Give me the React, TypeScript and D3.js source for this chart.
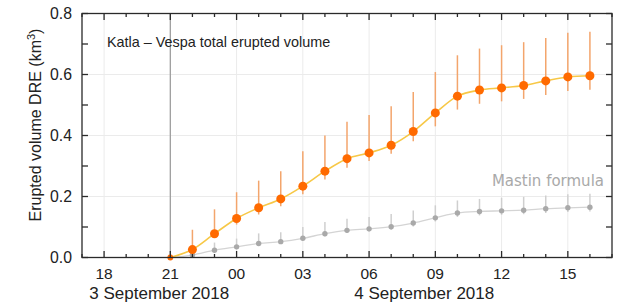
import React, { useEffect, useRef } from 'react';
import * as d3 from 'd3';

// hourly samples, 21:00 on 3 Sep to 16:00 on 4 Sep 2018 (UTC)
const times = [
  '2018-09-03T21:00Z', '2018-09-03T22:00Z', '2018-09-03T23:00Z',
  '2018-09-04T00:00Z', '2018-09-04T01:00Z', '2018-09-04T02:00Z', '2018-09-04T03:00Z',
  '2018-09-04T04:00Z', '2018-09-04T05:00Z', '2018-09-04T06:00Z', '2018-09-04T07:00Z',
  '2018-09-04T08:00Z', '2018-09-04T09:00Z', '2018-09-04T10:00Z', '2018-09-04T11:00Z',
  '2018-09-04T12:00Z', '2018-09-04T13:00Z', '2018-09-04T14:00Z', '2018-09-04T15:00Z',
  '2018-09-04T16:00Z',
];

// Vespa volume (km3 DRE)
const vespa = [0, 0.026, 0.078, 0.128, 0.163, 0.192, 0.234, 0.283, 0.324, 0.343, 0.368,
  0.413, 0.474, 0.529, 0.549, 0.556, 0.564, 0.579, 0.592, 0.596];
const vespaHigh = [0, 0.091, 0.158, 0.214, 0.252, 0.283, 0.348, 0.4, 0.445, 0.467, 0.496,
  0.543, 0.608, 0.663, 0.685, 0.696, 0.706, 0.72, 0.737, 0.74];
const vespaLow = [0, 0.018, 0.065, 0.108, 0.141, 0.168, 0.207, 0.256, 0.294, 0.316, 0.34,
  0.381, 0.43, 0.485, 0.504, 0.512, 0.52, 0.533, 0.546, 0.55];

// Mastin formula
const mastin = [0, 0.008, 0.024, 0.035, 0.046, 0.052, 0.063, 0.078, 0.089, 0.094, 0.101,
  0.113, 0.13, 0.146, 0.151, 0.153, 0.155, 0.16, 0.163, 0.165];
const mastinHigh = [0, 0.02, 0.049, 0.062, 0.079, 0.083, 0.1, 0.116, 0.127, 0.133, 0.143,
  0.154, 0.171, 0.187, 0.192, 0.196, 0.199, 0.203, 0.207, 0.209];
const mastinLow = [0, 0.006, 0.02, 0.03, 0.04, 0.046, 0.056, 0.07, 0.08, 0.085, 0.091,
  0.102, 0.118, 0.133, 0.138, 0.14, 0.142, 0.146, 0.149, 0.151];

const yTicks = [0, 0.2, 0.4, 0.6, 0.8];
const dateLabels = [
  { at: '2018-09-03T20:30Z', text: '3 September 2018' },
  { at: '2018-09-04T08:30Z', text: '4 September 2018' },
];
const eruptionStart = '2018-09-03T21:00Z';
const title = 'Katla \u2013 Vespa total erupted volume';

const W = 618, H = 303;
const margin = { top: 13.5, right: 6, bottom: 45.5, left: 82 };
const font = '"Liberation Sans", Arial, sans-serif';

const Chart = () => {
  const ref = useRef<SVGSVGElement>(null);

  useEffect(() => {
    const svg = d3.select(ref.current);
    svg.selectAll('*').remove();

    const x0 = margin.left, x1 = W - margin.right;
    const y0 = H - margin.bottom, y1 = margin.top;

    const x = d3.scaleUtc()
      .domain([new Date('2018-09-03T17:00Z'), new Date('2018-09-04T17:00Z')])
      .range([x0, x1]);
    const y = d3.scaleLinear().domain([0, 0.8]).range([y0, y1]);

    const dates = times.map(t => new Date(t));
    const hours = x.ticks(d3.utcHour.every(1)!);
    const major = x.ticks(d3.utcHour.every(3)!);
    const yMinor = d3.range(0, 0.81, 0.1);

    // grid
    const g = svg.append('g');
    g.selectAll('.vg').data(major).enter().append('line')
      .attr('x1', d => x(d)).attr('x2', d => x(d))
      .attr('y1', y0).attr('y2', y1)
      .attr('stroke', '#ebebeb').attr('stroke-width', 1);
    g.selectAll('.hg').data(yTicks.slice(1, -1)).enter().append('line')
      .attr('x1', x0).attr('x2', x1)
      .attr('y1', d => y(d)).attr('y2', d => y(d))
      .attr('stroke', '#ebebeb').attr('stroke-width', 1);

    // eruption start
    svg.append('line')
      .attr('x1', x(new Date(eruptionStart))).attr('x2', x(new Date(eruptionStart)))
      .attr('y1', y0).attr('y2', y1)
      .attr('stroke', '#a0a0a0').attr('stroke-width', 1.3);

    const line = d3.line<number>()
      .x((_, i) => x(dates[i]))
      .y(d => y(d))
      .curve(d3.curveMonotoneX);

    const drawSeries = (vals: number[], lo: number[], hi: number[],
      barColor: string, lineColor: string, dotColor: string, r: number, lw: number) => {
      svg.append('g').selectAll('line').data(vals).enter().append('line')
        .attr('x1', (_, i) => x(dates[i])).attr('x2', (_, i) => x(dates[i]))
        .attr('y1', (_, i) => y(lo[i])).attr('y2', (_, i) => y(hi[i]))
        .attr('stroke', barColor).attr('stroke-width', 1.5);
      svg.append('path').datum(vals)
        .attr('d', line)
        .attr('fill', 'none').attr('stroke', lineColor).attr('stroke-width', lw);
      svg.append('g').selectAll('circle').data(vals).enter().append('circle')
        .attr('cx', (_, i) => x(dates[i])).attr('cy', d => y(d))
        .attr('r', (d) => d === 0 ? r * 0.65 : r)
        .attr('fill', dotColor);
    };

    drawSeries(mastin, mastinLow, mastinHigh, '#cfcfcf', '#d4d4d4', '#a9a9a9', 2.7, 1.3);
    drawSeries(vespa, vespaLow, vespaHigh, '#f3a56c', '#f7c847', '#ff6a00', 4.5, 1.6);

    // frame
    svg.append('rect')
      .attr('x', x0).attr('y', y1).attr('width', x1 - x0).attr('height', y0 - y1)
      .attr('fill', 'none').attr('stroke', '#2a2a2a').attr('stroke-width', 1.3);

    // x ticks, bottom and top, pointing inward
    const isMajor = (d: Date) => d.getUTCHours() % 3 === 0;
    const tk = svg.append('g').attr('stroke', '#2a2a2a').attr('stroke-width', 1.3);
    tk.selectAll('.xb').data(hours).enter().append('line')
      .attr('x1', d => x(d)).attr('x2', d => x(d))
      .attr('y1', y0).attr('y2', d => y0 - (isMajor(d) ? 6.5 : 3.5));
    tk.selectAll('.xt').data(hours).enter().append('line')
      .attr('x1', d => x(d)).attr('x2', d => x(d))
      .attr('y1', y1).attr('y2', d => y1 + (isMajor(d) ? 6.5 : 3.5));
    tk.selectAll('.yl').data(yMinor).enter().append('line')
      .attr('x1', x0).attr('x2', x0 + 6)
      .attr('y1', d => y(d)).attr('y2', d => y(d));
    tk.selectAll('.yr').data(yMinor).enter().append('line')
      .attr('x1', x1).attr('x2', x1 - 6)
      .attr('y1', d => y(d)).attr('y2', d => y(d));

    // labels
    svg.append('g').selectAll('text').data(major.filter(d => d > x.domain()[0])).enter()
      .append('text')
      .attr('x', d => x(d)).attr('y', y0 + 21)
      .attr('text-anchor', 'middle')
      .attr('font-family', font).attr('font-size', 15.5).attr('fill', '#222')
      .text(d => d3.utcFormat('%H')(d));

    svg.append('g').selectAll('text').data(dateLabels).enter()
      .append('text')
      .attr('x', d => x(new Date(d.at))).attr('y', 299)
      .attr('text-anchor', 'middle')
      .attr('font-family', font).attr('font-size', 17).attr('fill', '#222')
      .text(d => d.text);

    svg.append('g').selectAll('text').data(yTicks).enter()
      .append('text')
      .attr('x', x0 - 10).attr('y', d => y(d)).attr('dy', '0.36em')
      .attr('text-anchor', 'end')
      .attr('font-family', font).attr('font-size', 15.8).attr('fill', '#222')
      .text(d => d.toFixed(1));

    const yl = svg.append('text')
      .attr('transform', 'translate(41,125) rotate(-90)')
      .attr('text-anchor', 'middle')
      .attr('font-family', font).attr('font-size', 16).attr('fill', '#222');
    yl.append('tspan').text('Erupted volume DRE (km');
    yl.append('tspan').attr('font-size', 11).attr('dy', -6).text('3');
    yl.append('tspan').attr('dy', 6).text(')');

    svg.append('text')
      .attr('x', x0 + 25).attr('y', 47)
      .attr('font-family', font).attr('font-size', 14.4).attr('fill', '#222')
      .text(title);

    svg.append('text')
      .attr('x', x1 - 8).attr('y', y(mastinHigh[mastinHigh.length - 1]) - 8)
      .attr('text-anchor', 'end')
      .attr('font-family', '"DejaVu Sans", Verdana, sans-serif')
      .attr('font-size', 15).attr('fill', '#a9a9a9')
      .text('Mastin formula');
  }, []);

  return <svg ref={ref} width={W} height={H} style={{ display: 'block' }}></svg>;
};

export default function App() {
  return (
    <div style={{ position: 'fixed', left: 0, top: 0, background: '#fff' }}>
      <Chart />
    </div>
  );
}
